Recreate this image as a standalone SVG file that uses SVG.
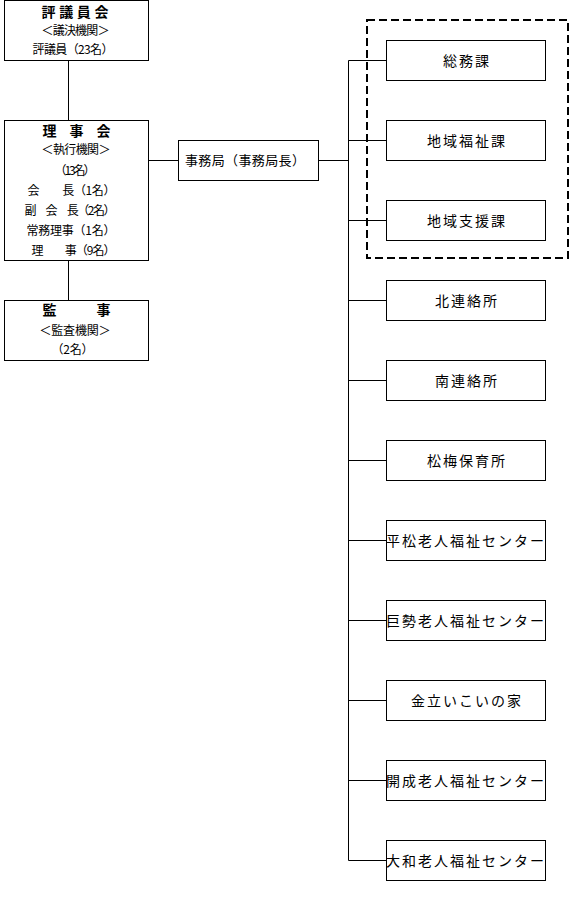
<svg xmlns="http://www.w3.org/2000/svg" width="581" height="901" viewBox="0 0 581 901">
  <style>
    text { font-family: "Noto Sans CJK JP", "Noto Sans", sans-serif; fill: #000; }
    .box { fill: #fff; stroke: #000; stroke-width: 1; }
    .line { fill: none; stroke: #000; stroke-width: 1; }
    .group { fill: none; stroke: #000; stroke-width: 2; stroke-dasharray: 8 4; }
    .title { font-size: 14px; font-weight: bold; text-anchor: middle; }
    .small { font-size: 12px; text-anchor: middle; }
    .unit { font-size: 14px; letter-spacing: 2px; text-anchor: middle; }
    .office { font-size: 13px; text-anchor: middle; }
  </style>
  <rect width="581" height="901" fill="#fff"/>

  <!-- connectors -->
  <g id="connectors">
    <path class="line" d="M68.5 60.5V120.5 M68.5 260.5V300.5"/>
    <path class="line" d="M148.5 160.5H178.5 M318.5 160.5H348.5"/>
    <path class="line" d="M348.5 60.5V860.5"/>
    <path class="line" d="M348.5 60.5H386.5 M348.5 140.5H386.5 M348.5 220.5H386.5 M348.5 300.5H386.5 M348.5 380.5H386.5 M348.5 460.5H386.5 M348.5 540.5H386.5 M348.5 620.5H386.5 M348.5 700.5H386.5 M348.5 780.5H386.5 M348.5 860.5H386.5"/>
  </g>

  <!-- dashed grouping round the three sections -->
  <rect id="section-group" class="group" x="367" y="20" width="201" height="238"/>

  <!-- council -->
  <g id="council">
    <rect class="box" x="4.5" y="0.5" width="144" height="60"/>
    <text class="title" x="75" y="17" textLength="67">評議員会</text>
    <text class="small" x="75.5" y="35" textLength="68">＜議決機関＞</text>
    <text class="small" x="73" y="54" textLength="81">評議員（23名）</text>
  </g>

  <!-- board -->
  <g id="board">
    <rect class="box" x="4.5" y="120.5" width="144" height="140"/>
    <text class="title" x="76.5" y="136" textLength="68">理　事　会</text>
    <text class="small" x="76" y="154" textLength="69">＜執行機関＞</text>
    <text class="small" x="75" y="175" textLength="41">（13名）</text>
    <text class="small" x="71.5" y="195" textLength="88">会　　長（1名）</text>
    <text class="small" x="70" y="215" textLength="91">副　会　長（2名）</text>
    <text class="small" x="71" y="235" textLength="89">常務理事（1名）</text>
    <text class="small" x="73.5" y="255" textLength="84">理　　事（9名）</text>
  </g>

  <!-- auditors -->
  <g id="auditors">
    <rect class="box" x="4.5" y="300.5" width="144" height="60"/>
    <text class="title" x="76.5" y="315" textLength="68">監　　　事</text>
    <text class="small" x="75" y="335" textLength="71">＜監査機関＞</text>
    <text class="small" x="72.5" y="354" textLength="42">（2名）</text>
  </g>

  <!-- secretariat -->
  <g id="secretariat">
    <rect class="box" x="178.5" y="140.5" width="140" height="40"/>
    <text class="office" x="245" y="165" textLength="120">事務局（事務局長）</text>
  </g>

  <!-- sections and facilities -->
  <g id="somu">
    <rect class="box" x="386.5" y="40.5" width="159" height="40"/>
    <text class="unit" x="467" y="66">総務課</text>
  </g>
  <g id="chiiki-fukushi">
    <rect class="box" x="386.5" y="120.5" width="159" height="40"/>
    <text class="unit" x="467" y="146">地域福祉課</text>
  </g>
  <g id="chiiki-shien">
    <rect class="box" x="386.5" y="200.5" width="159" height="40"/>
    <text class="unit" x="467" y="226">地域支援課</text>
  </g>
  <g id="kita">
    <rect class="box" x="386.5" y="280.5" width="159" height="40"/>
    <text class="unit" x="467" y="306">北連絡所</text>
  </g>
  <g id="minami">
    <rect class="box" x="386.5" y="360.5" width="159" height="40"/>
    <text class="unit" x="467" y="386">南連絡所</text>
  </g>
  <g id="shoubai">
    <rect class="box" x="386.5" y="440.5" width="159" height="40"/>
    <text class="unit" x="467" y="466">松梅保育所</text>
  </g>
  <g id="hiramatsu">
    <rect class="box" x="386.5" y="520.5" width="159" height="40"/>
    <text class="unit" x="466" y="546">平松老人福祉センター</text>
  </g>
  <g id="kose">
    <rect class="box" x="386.5" y="600.5" width="159" height="40"/>
    <text class="unit" x="466" y="626">巨勢老人福祉センター</text>
  </g>
  <g id="kanatate">
    <rect class="box" x="386.5" y="680.5" width="159" height="40"/>
    <text class="unit" x="467" y="706">金立いこいの家</text>
  </g>
  <g id="kaisei">
    <rect class="box" x="386.5" y="760.5" width="159" height="40"/>
    <text class="unit" x="466" y="786">開成老人福祉センター</text>
  </g>
  <g id="yamato">
    <rect class="box" x="386.5" y="840.5" width="159" height="40"/>
    <text class="unit" x="466" y="866">大和老人福祉センター</text>
  </g>
</svg>
